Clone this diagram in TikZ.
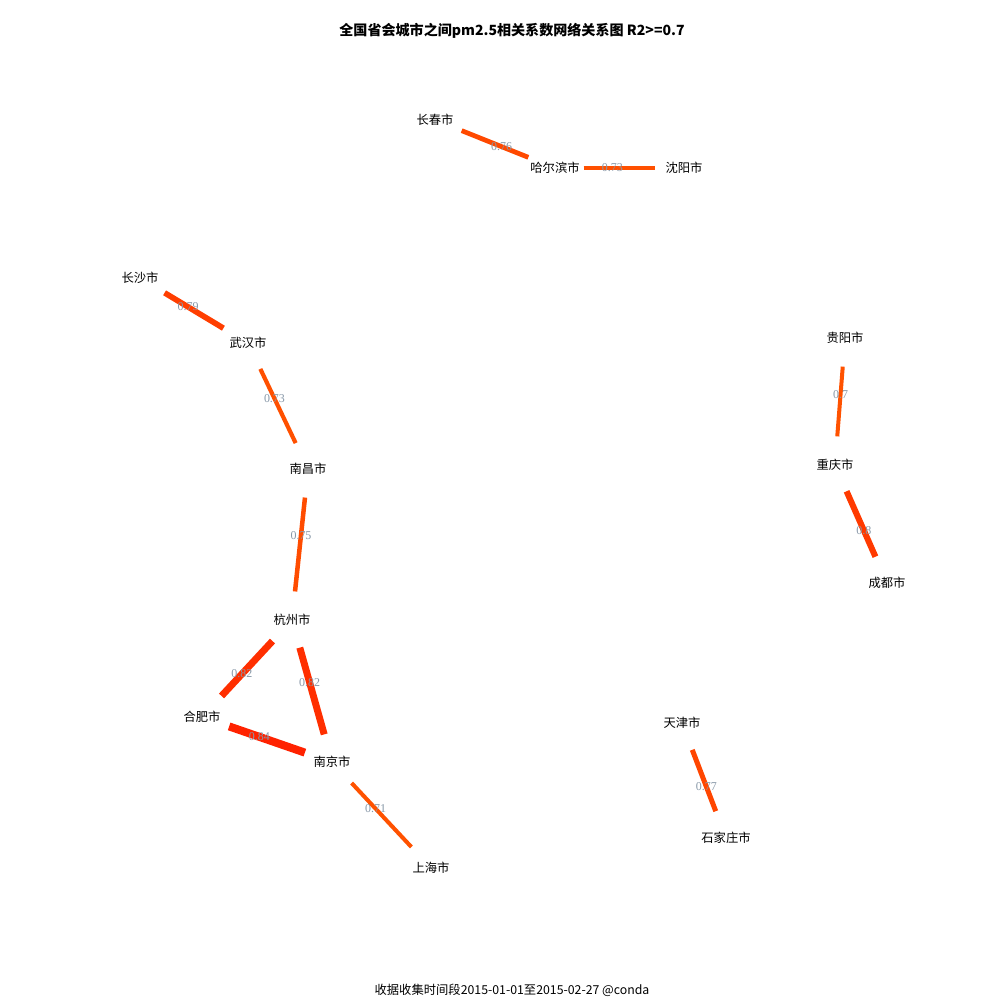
\documentclass[tikz,border=0pt]{standalone}
\usepackage{fontspec}
\setmainfont{Noto Sans CJK SC}
\newfontfamily\numfont{Liberation Serif}
\usetikzlibrary{positioning}
\definecolor{corrlo}{HTML}{FF5200}
\definecolor{corrhi}{HTML}{FF2200}
\definecolor{wgray}{HTML}{8898A8}

\begin{document}
\begin{tikzpicture}[x=0.01cm, y=-0.01cm,
    city/.style={circle, minimum size=0.56cm, inner sep=0pt,
                 font=\fontsize{3.5pt}{4pt}\selectfont},
    corr/.style={line cap=butt},
    wlabel/.style={pos=0.4, inner sep=0pt, text=wgray,
                   font=\numfont\fontsize{3.4pt}{4pt}\selectfont}]
  \useasboundingbox[fill=white] (0,0) rectangle (1000,1000);
  % title and footnote
  \node[font=\bfseries\fontsize{4pt}{5pt}\selectfont] (title) at (512,31)
    {全国省会城市之间pm2.5相关系数网络关系图 R2>=0.7};
  \node[font=\fontsize{3.5pt}{4pt}\selectfont] (foot) at (512,990)
    {收据收集时间段2015-01-01至2015-02-27 @conda};
  % cities
  \node[city] (cc)  at (435,120) {长春市};
  \node[city] (hrb) at (555,168) {哈尔滨市};
  \node[city] (sy)  at (684,168) {沈阳市};
  \node[city] (cs)  at (140,278) {长沙市};
  \node[city] (wh)  at (248,343) {武汉市};
  \node[city] (nc)  at (308,469) {南昌市};
  \node[city] (hz)  at (292,620) {杭州市};
  \node[city] (hf)  at (202,717) {合肥市};
  \node[city] (nj)  at (332,762) {南京市};
  \node[city] (sh)  at (431,868) {上海市};
  \node[city] (gy)  at (845,338) {贵阳市};
  \node[city] (cq)  at (835,465) {重庆市};
  \node[city] (cd)  at (887,583) {成都市};
  \node[city] (tj)  at (682,723) {天津市};
  \node[city] (sjz) at (726,838) {石家庄市};
  % correlations
  \foreach \a/\b/\w in {hrb/cc/0.76, hrb/sy/0.73, cs/wh/0.79, wh/nc/0.73,
      nc/hz/0.75, hf/hz/0.82, hz/nj/0.82, hf/nj/0.84, nj/sh/0.71,
      gy/cq/0.7, cd/cq/0.8, sjz/tj/0.77} {
    \pgfmathsetmacro\t{(\w-0.7)/0.14}
    \pgfmathtruncatemacro\mixp{100*\t*\t}
    \pgfmathsetmacro\lw{0.2845*(4+4*\t*\t)}
    \draw[corr, line width=\lw pt, draw=corrhi!\mixp!corrlo]
      (\a) -- node[wlabel] {\w} (\b);
  }
\end{tikzpicture}
\end{document}
